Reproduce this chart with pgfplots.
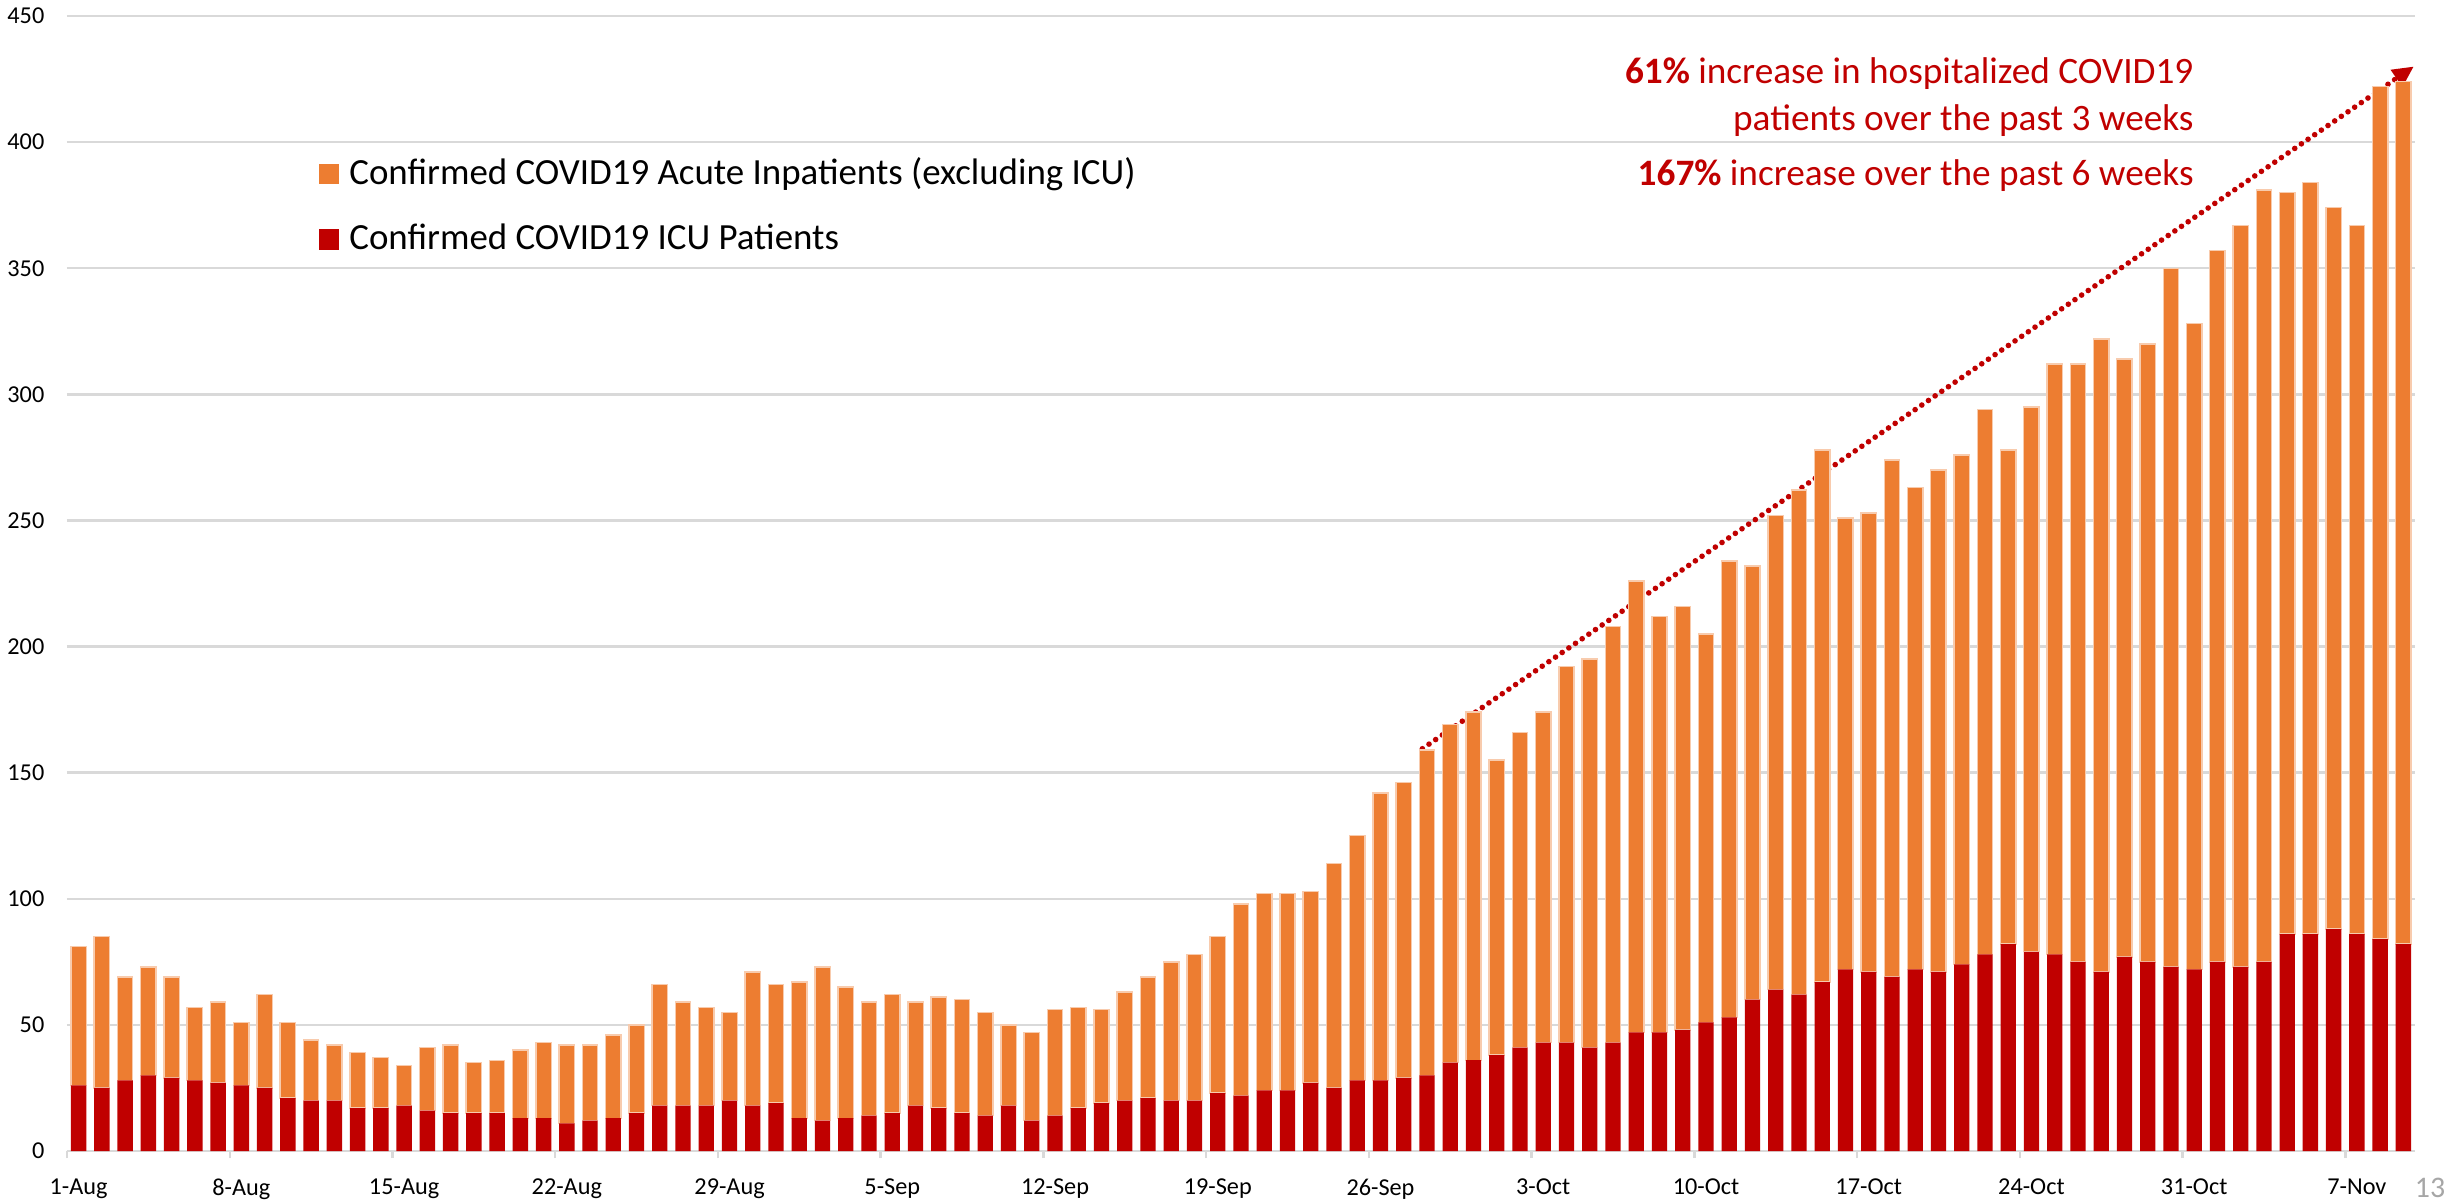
\documentclass[border=0pt]{standalone}
\usepackage{fontspec}
\setmainfont{Carlito}
\usepackage{pgfplots}
\usepackage{pgfplotstable}
\pgfplotsset{compat=1.18}
\usetikzlibrary{arrows.meta}

\definecolor{acuteor}{HTML}{ED7D31}
\definecolor{icured}{HTML}{C00000}
\definecolor{gridgray}{HTML}{D9D9D9}
\definecolor{baredge}{HTML}{F8CBAD}

% day 0 = 1-Aug ; icu and acute (non-ICU) counts
\pgfplotstableread{
day icu acute
0 26 55
1 25 60
2 28 41
3 30 43
4 29 40
5 28 29
6 27 32
7 26 25
8 25 37
9 21 30
10 20 24
11 20 22
12 17 22
13 17 20
14 18 16
15 16 25
16 15 27
17 15 20
18 15 21
19 13 27
20 13 30
21 11 31
22 12 30
23 13 33
24 15 35
25 18 48
26 18 41
27 18 39
28 20 35
29 18 53
30 19 47
31 13 54
32 12 61
33 13 52
34 14 45
35 15 47
36 18 41
37 17 44
38 15 45
39 14 41
40 18 32
41 12 35
42 14 42
43 17 40
44 19 37
45 20 43
46 21 48
47 20 55
48 20 58
49 23 62
50 22 76
51 24 78
52 24 78
53 27 76
54 25 89
55 28 97
56 28 114
57 29 117
58 30 129
59 35 134
60 36 138
61 38 117
62 41 125
63 43 131
64 43 149
65 41 154
66 43 165
67 47 179
68 47 165
69 48 168
70 51 154
71 53 181
72 60 172
73 64 188
74 62 200
75 67 211
76 72 179
77 71 182
78 69 205
79 72 191
80 71 199
81 74 202
82 78 216
83 82 196
84 79 216
85 78 234
86 75 237
87 71 251
88 77 237
89 75 245
90 73 277
91 72 256
92 75 282
93 73 294
94 75 306
95 86 294
96 86 298
97 88 286
98 86 281
99 84 338
100 82 342
}\datatable

\begin{document}
\begin{tikzpicture}
\path[use as bounding box] (0,0) rectangle (24.63cm,12.03cm);
\begin{axis}[
    at={(0.67cm,0.52cm)}, anchor=south west,
    scale only axis,
    width=23.48cm, height=11.35cm,
    ybar stacked,
    bar width=0.66,
    xmin=-0.5, xmax=100.5,
    ymin=0, ymax=450,
    ytick={0,50,...,450},
    xtick={0,7,...,98},
    xticklabels={1-Aug,8-Aug,15-Aug,22-Aug,29-Aug,5-Sep,12-Sep,19-Sep,26-Sep,3-Oct,10-Oct,17-Oct,24-Oct,31-Oct,7-Nov},
    extra x ticks={-0.5,6.5,...,97.5},
    extra x tick labels={},
    extra x tick style={major tick length=0.07cm, tick align=outside,
        tick style={gridgray, line width=0.7pt}, xmajorgrids=false},
    major tick length=0pt,
    axis x line*=bottom,
    axis y line*=left,
    x axis line style={gridgray, line width=0.7pt},
    y axis line style={draw=none},
    ymajorgrids,
    grid style={gridgray, line width=0.7pt},
    /pgf/number format/assume math mode=true,
    tick label style={font=\fontsize{6.9}{8}\selectfont, text=black},
    yticklabel style={inner sep=0pt, xshift=-0.22cm},
    xticklabel style={inner sep=0pt, yshift=-0.27cm},
    legend cell align=left,
    legend image code/.code={\fill (0cm,-0.095cm) rectangle (0.19cm,0.095cm);},
    legend style={at={(rel axis cs:0.107,0.882)}, anchor=north west,
        draw=none, fill=none, font=\fontsize{10.5}{12}\selectfont,
        row sep=0.2cm, inner sep=0pt,
        nodes={inner xsep=0.1cm}},
    clip=false,
]
\addlegendimage{acuteor, fill=acuteor}
\addlegendentry{Confirmed COVID19 Acute Inpatients (excluding ICU)}
\addlegendimage{icured, fill=icured}
\addlegendentry{Confirmed COVID19 ICU Patients}

\addplot[fill=icured, draw=none, forget plot] table[x=day, y=icu]{\datatable};
\addplot[fill=acuteor, draw=baredge, line width=0.4pt, forget plot] table[x=day, y=acute]{\datatable};

\draw[icured, line width=1.6pt, dash pattern=on 0pt off 2.3pt, line cap=round,
      -{Triangle[length=6pt, width=5.5pt]}]
    (axis cs:57.8,159.5) -- (axis cs:100.45,430);

\node[anchor=east, inner sep=0pt, text=icured, font=\fontsize{10.6}{13}\selectfont]
    at (axis cs:91,427) {\textbf{61\%} increase in hospitalized COVID19};
\node[anchor=east, inner sep=0pt, text=icured, font=\fontsize{10.6}{13}\selectfont]
    at (axis cs:91,408.5) {patients over the past 3 weeks};
\node[anchor=east, inner sep=0pt, text=icured, font=\fontsize{10.6}{13}\selectfont]
    at (axis cs:91,386.6) {\textbf{167\%} increase over the past 6 weeks};
\end{axis}
\node[anchor=base, inner sep=0pt, text=gray!70, font=\fontsize{8.5}{10}\selectfont]
    at (24.30cm,0.06cm) {13};
\end{tikzpicture}
\end{document}
